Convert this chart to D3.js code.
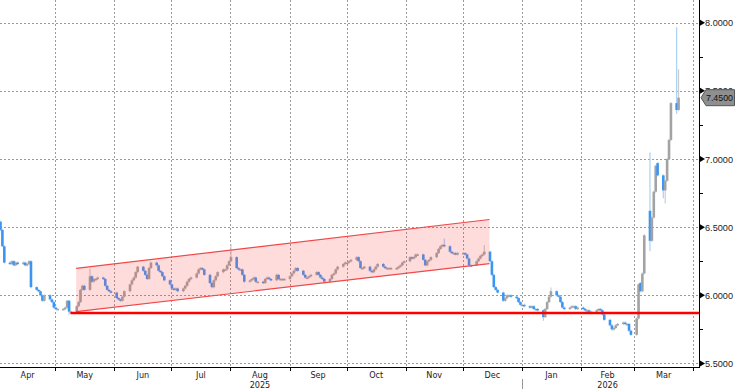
<!DOCTYPE html>
<html>
<head>
<meta charset="utf-8">
<script src="https://cdn.jsdelivr.net/npm/d3@7"></script>
<style>
  html, body { margin: 0; padding: 0; background: #fff; }
  svg { display: block; }
  .lbl { font-family: "Liberation Sans", Arial, sans-serif; font-size: 9.6px; fill: #222; }
  .xlbl { font-family: "Liberation Sans Narrow", "DejaVu Sans Condensed", "Liberation Sans", sans-serif; font-size: 9px; fill: #222; }
</style>
</head>
<body>
<div id="chart"></div>
<script>
// daily closes, one per weekday, starting 2 Apr 2025
const firstDay = '2025-04-02';
const apr25 = [6.48, 6.36, 6.24, 6.23, 6.25, 6.22, 6.24, 6.23, 6.24, 6.22, 6.23, 6.25, 6.06, 6.04, 6.03, 6.00, 5.96, 6.00, 5.97, 5.95, 5.91];
const may25 = [5.90, 5.90, 5.90, 5.91, 5.96, 5.88, 5.88, 5.92, 5.95, 6.04, 6.07, 6.04, 6.14, 6.10, 6.12, 6.12, 6.13, 6.12, 6.07, 6.04, 6.03, 6.02];
const jun25 = [5.98, 5.97, 5.96, 5.99, 6.03, 6.08, 6.11, 6.13, 6.17, 6.21, 6.18, 6.15, 6.12, 6.20, 6.24, 6.22, 6.18, 6.17, 6.14, 6.11, 6.08];
const jul25 = [6.05, 6.04, 6.05, 6.03, 6.05, 6.07, 6.10, 6.12, 6.13, 6.16, 6.19, 6.20, 6.19, 6.15, 6.09, 6.06, 6.11, 6.14, 6.17, 6.19, 6.19, 6.22, 6.25];
const aug25 = [6.28, 6.20, 6.19, 6.19, 6.15, 6.10, 6.11, 6.12, 6.13, 6.10, 6.10, 6.09, 6.12, 6.13, 6.12, 6.11, 6.15, 6.12, 6.12, 6.12, 6.12];
const sep25 = [6.14, 6.16, 6.18, 6.20, 6.18, 6.15, 6.13, 6.13, 6.14, 6.15, 6.17, 6.15, 6.13, 6.12, 6.10, 6.12, 6.15, 6.16, 6.19, 6.21, 6.23, 6.24];
const oct25 = [6.24, 6.25, 6.26, 6.28, 6.25, 6.20, 6.20, 6.21, 6.18, 6.17, 6.19, 6.21, 6.23, 6.21, 6.20, 6.20, 6.20, 6.20, 6.20, 6.21, 6.22, 6.24, 6.25];
const nov25 = [6.28, 6.27, 6.28, 6.30, 6.30, 6.26, 6.22, 6.25, 6.26, 6.28, 6.31, 6.34, 6.36, 6.37, 6.36, 6.32, 6.31, 6.31, 6.30, 6.31];
const dec25 = [6.31, 6.30, 6.27, 6.22, 6.22, 6.25, 6.27, 6.29, 6.30, 6.32, 6.25, 6.15, 6.06, 6.04, 6.02, 5.96, 5.98, 6.00, 6.00, 5.99, 5.98, 5.95, 5.93];
const jan26 = [5.93, 5.92, 5.91, 5.92, 5.90, 5.90, 5.89, 5.84, 5.90, 5.95, 5.99, 6.03, 6.00, 5.99, 5.95, 5.91, 5.90, 5.91, 5.92, 5.92, 5.90, 5.91];
const feb26 = [5.90, 5.89, 5.89, 5.88, 5.88, 5.89, 5.90, 5.89, 5.86, 5.82, 5.78, 5.75, 5.76, 5.78, 5.79, 5.80, 5.79, 5.79, 5.74, 5.71];
const mar26 = [5.83, 6.08, 6.03, 6.16, 6.44, 6.40, 6.57, 6.76, 6.95, 6.88, 6.77, 6.84, 7.00, 7.14, 7.41, 7.36, 7.45];

// open / high / low where they differ from previous close and body
const extras = [
  ['2025-04-02', 6.54, null, null],
  ['2025-05-08', null, null, 5.865],
  ['2025-05-19', null, 6.19, null],
  ['2025-08-01', null, 6.37, null],
  ['2025-11-21', null, 6.41, null],
  ['2025-12-12', null, 6.36, null],
  ['2026-01-12', null, null, 5.82],
  ['2026-01-16', null, 6.05, null],
  ['2026-03-04', 6.09, null, null],
  ['2026-03-09', 6.62, 7.04, 6.33],
  ['2026-03-13', 6.97, null, null],
  ['2026-03-16', null, null, 6.72],
  ['2026-03-17', null, null, 6.68],
  ['2026-03-23', 7.41, 7.96, 7.34],
  ['2026-03-24', null, 7.65, null]
];

const yTicks = [5.5, 6.0, 6.5, 7.0, 7.5, 8.0];
const yMinor = [5.75, 6.25, 6.75, 7.25, 7.75];
const monthLabels = ['Apr', 'May', 'Jun', 'Jul', 'Aug', 'Sep', 'Oct', 'Nov', 'Dec', 'Jan', 'Feb', 'Mar'];
const yearLabels = [['2025', '2025-08-01'], ['2026', '2026-02-01']];
const lastPrice = 7.45;
const supportLevel = 5.87;
const supportFrom = '2025-05-09';
const channelDates = ['2025-05-12', '2025-12-15'];
const channelUpper = [6.198, 6.556];
const channelLower = [5.880, 6.233];

const W = 735, H = 389;
const plotR = 699, plotB = 367;
const parse = d3.utcParse('%Y-%m-%d');

// build candles
const closes = [].concat(apr25, may25, jun25, jul25, aug25, sep25, oct25, nov25, dec25, jan26, feb26, mar26);
const extraMap = new Map(extras.map(e => [e[0], e]));
const fmt = d3.utcFormat('%Y-%m-%d');
let day = parse(firstDay);
let candles = [];
let prev = null;
closes.forEach(c => {
  while (day.getUTCDay() === 0 || day.getUTCDay() === 6) day = d3.utcDay.offset(day, 1);
  let key = fmt(day);
  let ex = extraMap.get(key);
  let o = ex && ex[1] != null ? ex[1] : (prev == null ? c : prev);
  let hi = Math.max(o, c), lo = Math.min(o, c);
  if (ex && ex[2] != null) hi = ex[2];
  if (ex && ex[3] != null) lo = ex[3];
  candles.push({ date: day, open: o, close: c, high: hi, low: lo });
  prev = c;
  day = d3.utcDay.offset(day, 1);
});

const x = d3.scaleUtc().domain([parse('2025-04-02'), parse('2026-04-04')]).range([0, plotR]);
const y = d3.scaleLinear().domain([5.474, 8.1666]).range([plotB, 0]);

const svg = d3.select('#chart').append('svg').attr('width', W).attr('height', H);

// grid
const monthStarts = d3.utcMonth.range(parse('2025-05-01'), parse('2026-04-02'));
svg.append('g').selectAll('line').data(yTicks).enter().append('line')
  .attr('x1', 0).attr('x2', plotR)
  .attr('y1', d => Math.round(y(d)) + 0.5).attr('y2', d => Math.round(y(d)) + 0.5)
  .attr('stroke', '#9a9a9a').attr('stroke-dasharray', '2,2');
svg.append('g').selectAll('line').data(monthStarts).enter().append('line')
  .attr('x1', d => Math.round(x(d)) + 0.5).attr('x2', d => Math.round(x(d)) + 0.5)
  .attr('y1', 0).attr('y2', plotB)
  .attr('stroke', '#9a9a9a').attr('stroke-dasharray', '2,2');

// candles
const bw = 2.6;
const cg = svg.append('g');
cg.selectAll('.wick').data(candles).enter().append('line')
  .attr('x1', d => x(d.date) + 0.5).attr('x2', d => x(d.date) + 0.5)
  .attr('y1', d => y(d.high) - 1).attr('y2', d => y(d.low) + 1)
  .attr('stroke', d => d.close < d.open ? '#a9d0f7' : '#cccccc').attr('stroke-width', 1.2);
cg.selectAll('.body').data(candles).enter().append('rect')
  .attr('x', d => x(d.date) + 0.5 - bw / 2)
  .attr('width', bw)
  .attr('y', d => y(Math.max(d.open, d.close)))
  .attr('height', d => Math.max(1.5, Math.abs(y(d.open) - y(d.close))))
  .attr('fill', d => d.close < d.open ? '#3d95f2' : '#a3a3a3');

// channel overlay
const cx0 = x(parse(channelDates[0])), cx1 = x(parse(channelDates[1]));
const chPts = [[cx0, y(channelUpper[0])], [cx1, y(channelUpper[1])], [cx1, y(channelLower[1])], [cx0, y(channelLower[0])]];
svg.append('polygon')
  .attr('points', chPts.map(p => p.join(',')).join(' '))
  .attr('fill', 'rgba(255,60,60,0.18)');
svg.append('line')
  .attr('x1', cx0).attr('y1', y(channelUpper[0])).attr('x2', cx1).attr('y2', y(channelUpper[1]))
  .attr('stroke', '#f04848').attr('stroke-width', 1.2);
svg.append('line')
  .attr('x1', cx0).attr('y1', y(channelLower[0])).attr('x2', cx1).attr('y2', y(channelLower[1]))
  .attr('stroke', '#f04848').attr('stroke-width', 1.2);

// support line
svg.append('line')
  .attr('x1', x(parse(supportFrom))).attr('x2', plotR)
  .attr('y1', y(supportLevel)).attr('y2', y(supportLevel))
  .attr('stroke', '#ff0000').attr('stroke-width', 2.5);

// right axis
const ax = svg.append('g');
ax.append('line').attr('x1', plotR + 0.5).attr('x2', plotR + 0.5).attr('y1', 0).attr('y2', plotB + 1)
  .attr('stroke', '#000');
ax.selectAll('.tri').data(yTicks).enter().append('path')
  .attr('d', d => `M${plotR + 1},${y(d) - 3} L${plotR + 6},${y(d)} L${plotR + 1},${y(d) + 3} Z`)
  .attr('fill', '#000');
ax.selectAll('.minor').data(yMinor).enter().append('line')
  .attr('x1', plotR).attr('x2', plotR + 4)
  .attr('y1', d => Math.round(y(d)) + 0.5).attr('y2', d => Math.round(y(d)) + 0.5)
  .attr('stroke', '#000');
ax.selectAll('.yl').data(yTicks).enter().append('text')
  .attr('class', 'lbl')
  .attr('x', plotR + 6).attr('y', d => y(d) + 3.5)
  .attr('textLength', 28).attr('lengthAdjust', 'spacingAndGlyphs')
  .text(d => d.toFixed(4));

// last price tag
const ly = y(lastPrice);
svg.append('path')
  .attr('d', `M${plotR + 2},${ly} L${plotR + 7},${ly - 8} L${W - 0.5},${ly - 8} L${W - 0.5},${ly + 8} L${plotR + 7},${ly + 8} Z`)
  .attr('fill', '#8f8f8f').attr('stroke', '#555');
svg.append('text').attr('class', 'lbl')
  .attr('x', plotR + 7).attr('y', ly + 3.5).style('fill', '#111')
  .attr('textLength', 27).attr('lengthAdjust', 'spacingAndGlyphs')
  .text(lastPrice.toFixed(4));

// bottom axis
const bx = svg.append('g');
bx.append('line').attr('x1', 0).attr('x2', plotR).attr('y1', plotB + 0.5).attr('y2', plotB + 0.5)
  .attr('stroke', '#000');
bx.selectAll('.tk').data(monthStarts).enter().append('line')
  .attr('x1', d => Math.round(x(d)) + 0.5).attr('x2', d => Math.round(x(d)) + 0.5)
  .attr('y1', plotB).attr('y2', plotB + 4)
  .attr('stroke', '#000');
const monthMids = d3.utcMonth.range(parse('2025-04-01'), parse('2026-04-01')).map(d => {
  let a = Math.max(0, x(d)), b = Math.min(plotR, x(d3.utcMonth.offset(d, 1)));
  return (a + b) / 2;
});
bx.selectAll('.ml').data(monthLabels).enter().append('text')
  .attr('class', 'xlbl').attr('text-anchor', 'middle')
  .attr('x', (d, i) => monthMids[i]).attr('y', 378)
  .text(d => d);
bx.selectAll('.yr').data(yearLabels).enter().append('text')
  .attr('class', 'xlbl').attr('text-anchor', 'middle')
  .attr('x', d => {
    let s = parse(d[1]);
    return (x(s) + x(d3.utcMonth.offset(s, 1))) / 2;
  })
  .attr('y', 388)
  .text(d => d[0]);
bx.append('line')
  .attr('x1', Math.round(x(parse('2026-01-01'))) + 0.5).attr('x2', Math.round(x(parse('2026-01-01'))) + 0.5)
  .attr('y1', 379).attr('y2', 389).attr('stroke', '#999');
</script>
</body>
</html>
